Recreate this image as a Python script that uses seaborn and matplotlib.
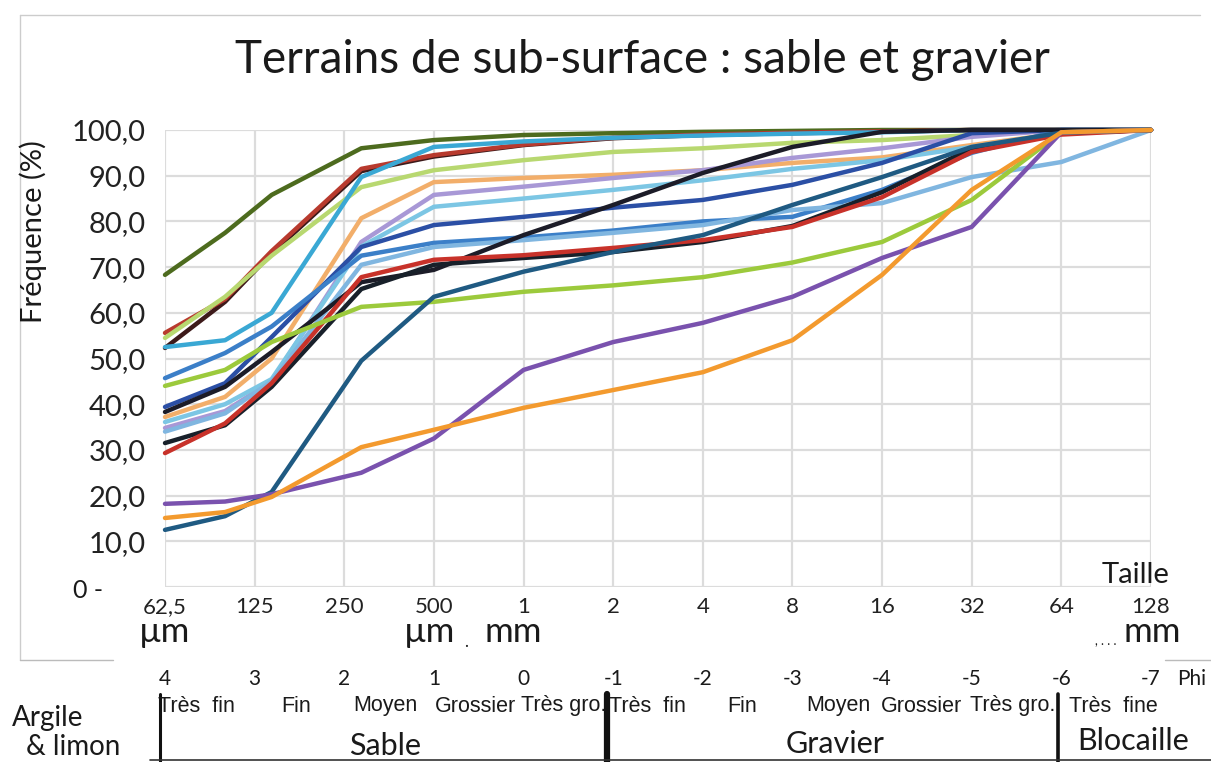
import matplotlib
matplotlib.use("Agg")
import matplotlib.pyplot as plt
import seaborn as sns
import pandas as pd
from matplotlib.lines import Line2D

# x positions of the sieve sizes, in grid units (0 = 62,5 um ... 11 = 128 mm)
sieve_pos = [0, 0.67, 1.19, 2.19, 3, 4, 5, 6, 7, 8, 9, 10, 11]

size_labels = ["62,5", "125", "250", "500", "1", "2", "4", "8", "16", "32", "64", "128"]
phi_labels = ["4", "3", "2", "1", "0", "-1", "-2", "-3", "-4", "-5", "-6", "-7"]

olive = [68.3, 77.5, 85.8, 96.0, 97.8, 98.9, 99.3, 99.6, 99.8, 100, 100, 100, 100]
brown = [52.3, 62.4, 73.0, 91.0, 94.2, 96.7, 98.2, 98.9, 99.3, 99.6, 100, 100, 100]
red_a = [55.6, 63.0, 73.5, 91.5, 94.5, 96.8, 98.3, 99.0, 99.4, 99.7, 100, 100, 100]
light_green = [54.5, 63.5, 72.5, 87.5, 91.2, 93.4, 95.2, 96.0, 97.2, 97.8, 98.9, 100, 100]
cyan = [52.5, 54.0, 60.0, 89.7, 96.3, 97.5, 98.3, 98.8, 99.2, 99.5, 100, 100, 100]
peach = [37.2, 41.6, 50.0, 80.7, 88.6, 89.5, 90.2, 91.2, 92.8, 94.0, 96.7, 99.3, 100]
lavender = [34.8, 38.5, 45.0, 75.5, 85.8, 87.6, 89.5, 91.2, 93.9, 96.0, 98.5, 100, 100]
light_blue = [36.1, 40.0, 45.5, 74.5, 83.2, 85.0, 86.9, 89.0, 91.5, 93.4, 96.3, 99.3, 100]
dark_blue = [39.4, 44.6, 54.7, 74.4, 79.2, 81.0, 83.0, 84.7, 88.0, 92.8, 99.3, 100, 100]
mid_blue = [45.7, 51.2, 57.0, 72.5, 75.3, 76.5, 78.0, 80.0, 81.0, 86.9, 95.0, 100, 100]
steel_blue = [34.0, 38.0, 45.0, 70.5, 74.4, 75.9, 77.5, 79.2, 82.5, 84.0, 89.7, 93.0, 100]
black_a = [38.3, 43.8, 51.4, 66.7, 69.4, 77.0, 83.6, 90.6, 96.3, 99.6, 100, 100, 100]
black_b = [31.5, 35.4, 43.8, 65.2, 70.5, 72.0, 73.3, 75.5, 79.0, 86.4, 96.0, 99.3, 100]
red_b = [29.3, 35.8, 44.6, 67.8, 71.6, 72.6, 74.2, 75.9, 78.8, 85.3, 95.2, 99.0, 100]
lime = [44.0, 47.5, 53.6, 61.3, 62.4, 64.6, 66.0, 67.8, 71.0, 75.5, 84.7, 99.5, 100]
teal = [12.5, 15.5, 20.8, 49.5, 63.5, 69.0, 73.3, 77.0, 83.6, 89.7, 96.3, 99.4, 100]
purple = [18.2, 18.7, 20.3, 25.0, 32.5, 47.5, 53.6, 57.8, 63.5, 72.0, 78.8, 99.5, 100]
orange = [15.1, 16.4, 19.7, 30.6, 34.4, 39.2, 43.1, 47.0, 54.0, 68.3, 86.9, 99.5, 100]

series = {
    "olive": (olive, "#4d6b1e"),
    "brown": (brown, "#3d1a1a"),
    "red_a": (red_a, "#b83a2e"),
    "light_green": (light_green, "#b8d870"),
    "cyan": (cyan, "#3aa8d4"),
    "peach": (peach, "#f2ae6a"),
    "lavender": (lavender, "#a898d6"),
    "light_blue": (light_blue, "#7cc6e4"),
    "dark_blue": (dark_blue, "#2b4fa5"),
    "mid_blue": (mid_blue, "#3b7fc8"),
    "steel_blue": (steel_blue, "#80b6e0"),
    "black_a": (black_a, "#1c1c28"),
    "black_b": (black_b, "#18202a"),
    "red_b": (red_b, "#c8322a"),
    "lime": (lime, "#9cca3c"),
    "teal": (teal, "#1f5a82"),
    "purple": (purple, "#7a52ae"),
    "orange": (orange, "#f39a2e"),
}

rows = []
for name, (vals, _) in series.items():
    for x, v in zip(sieve_pos, vals):
        rows.append({"serie": name, "x": x, "freq": v})
df = pd.DataFrame(rows)
palette = {name: col for name, (_, col) in series.items()}

sns.set_theme(style="white")
plt.rcParams['font.family'] = ['Lato', 'DejaVu Sans']

W, H = 1211, 762
fig = plt.figure(figsize=(W / 100, H / 100), dpi=100)
fig.patch.set_facecolor("white")

# plot area in pixels: x 165..1151, y 130..587
L, R, T, B = 165, 1151, 130, 587
ax = fig.add_axes([L / W, 1 - B / H, (R - L) / W, (B - T) / H])

def fx(px):
    return px / W

def fy(py):
    return 1 - py / H

sns.lineplot(data=df, x="x", y="freq", hue="serie", palette=palette,
             linewidth=3.2, legend=False, estimator=None, sort=False, ax=ax)
for ln in ax.get_lines():
    ln.set_clip_on(False)
    ln.set_solid_joinstyle("round")

ax.set_xlim(0, 11)
ax.set_ylim(0, 100)
ax.set_xticks(range(12))
ax.set_yticks(range(0, 101, 10))
ax.grid(True, color="#dcdcdc", linewidth=1.6)
ax.set_axisbelow(True)
for s in ax.spines.values():
    s.set_visible(False)
ax.set_xticklabels(size_labels, fontsize=16, color="#222222")
ax.set_yticklabels([""] + [f"{v},0" for v in range(10, 101, 10)], fontsize=21, color="#222222")
ax.tick_params(axis="x", length=0, pad=7)
ax.tick_params(axis="y", length=0, pad=14)
ax.set_xlabel("")
ax.set_ylabel("")

txt = "#1a1a1a"
fig.text(fx(642), fy(60), "Terrains de sub-surface : sable et gravier", fontsize=33,
         ha="center", va="center", color=txt)
fig.text(fx(33), fy(232), "Fréquence (%)", fontsize=21, rotation=90,
         ha="center", va="center", color=txt)
fig.text(fx(88), fy(590), "0 -", fontsize=18, ha="center", va="center", color=txt)
fig.text(fx(1136), fy(575), "Taille", fontsize=21, ha="center", va="center", color=txt)
fig.text(fx(165), fy(632), "µm", fontsize=25, ha="center", va="center", color=txt)
fig.text(fx(430), fy(632), "µm", fontsize=25, ha="center", va="center", color=txt)
fig.text(fx(466), fy(642), ".", fontsize=12, ha="center", va="center", color=txt)
fig.text(fx(513), fy(632), "mm", fontsize=25, ha="center", va="center", color=txt)
fig.text(fx(1152), fy(632), "mm", fontsize=25, ha="center", va="center", color=txt)
fig.text(fx(1106), fy(641), ", . . .", fontsize=9, ha="center", va="center", color=txt)

# phi scale
for i, lab in enumerate(phi_labels):
    ax.text(i, (B - 679) / (B - T), lab, transform=ax.get_xaxis_transform(),
            fontsize=15, ha="center", va="center", color=txt)
fig.text(fx(1192), fy(679), "Phi", fontsize=15, ha="center", va="center", color=txt)

# grain classes
narrow = ['Liberation Sans Narrow', 'Liberation Sans', 'DejaVu Sans']
classes = [("Très  fin", 196), ("Fin", 296), ("Moyen", 385), ("Grossier", 475), ("Très gro.", 564),
           ("Très  fin", 647), ("Fin", 742), ("Moyen", 838), ("Grossier", 922), ("Très gro.", 1013),
           ("Très  fine", 1113)]
for lab, px in classes:
    fig.text(fx(px), fy(706), lab, fontsize=15.5, family=narrow,
             ha="center", va="center", color=txt)

fig.text(fx(385), fy(746), "Sable", fontsize=22, ha="center", va="center", color=txt)
fig.text(fx(835), fy(744), "Gravier", fontsize=22, ha="center", va="center", color=txt)
fig.text(fx(1133), fy(741), "Blocaille", fontsize=22, ha="center", va="center", color=txt)
fig.text(fx(12), fy(718), "Argile", fontsize=20, ha="left", va="center", color=txt)
fig.text(fx(26), fy(747), "& limon", fontsize=20, ha="left", va="center", color=txt)

# separators and frame
def seg(x0, y0, x1, y1, lw, col):
    fig.add_artist(Line2D([fx(x0), fx(x1)], [fy(y0), fy(y1)], color=col,
                          linewidth=lw, transform=fig.transFigure))

seg(160, 694, 160, 762, 2.2, "#111111")
seg(607, 694, 607, 762, 4.5, "#111111")
seg(1058, 694, 1058, 762, 2.6, "#111111")
seg(150, 760, 1211, 760, 1.2, "#333333")
seg(20, 15, 1200, 15, 1.0, "#cccccc")
seg(20, 15, 20, 660, 1.0, "#cccccc")
seg(20, 660, 113, 660, 1.0, "#bbbbbb")
seg(1165, 660, 1211, 660, 1.0, "#bbbbbb")

fig.savefig("out.png", dpi=100, facecolor="white")
